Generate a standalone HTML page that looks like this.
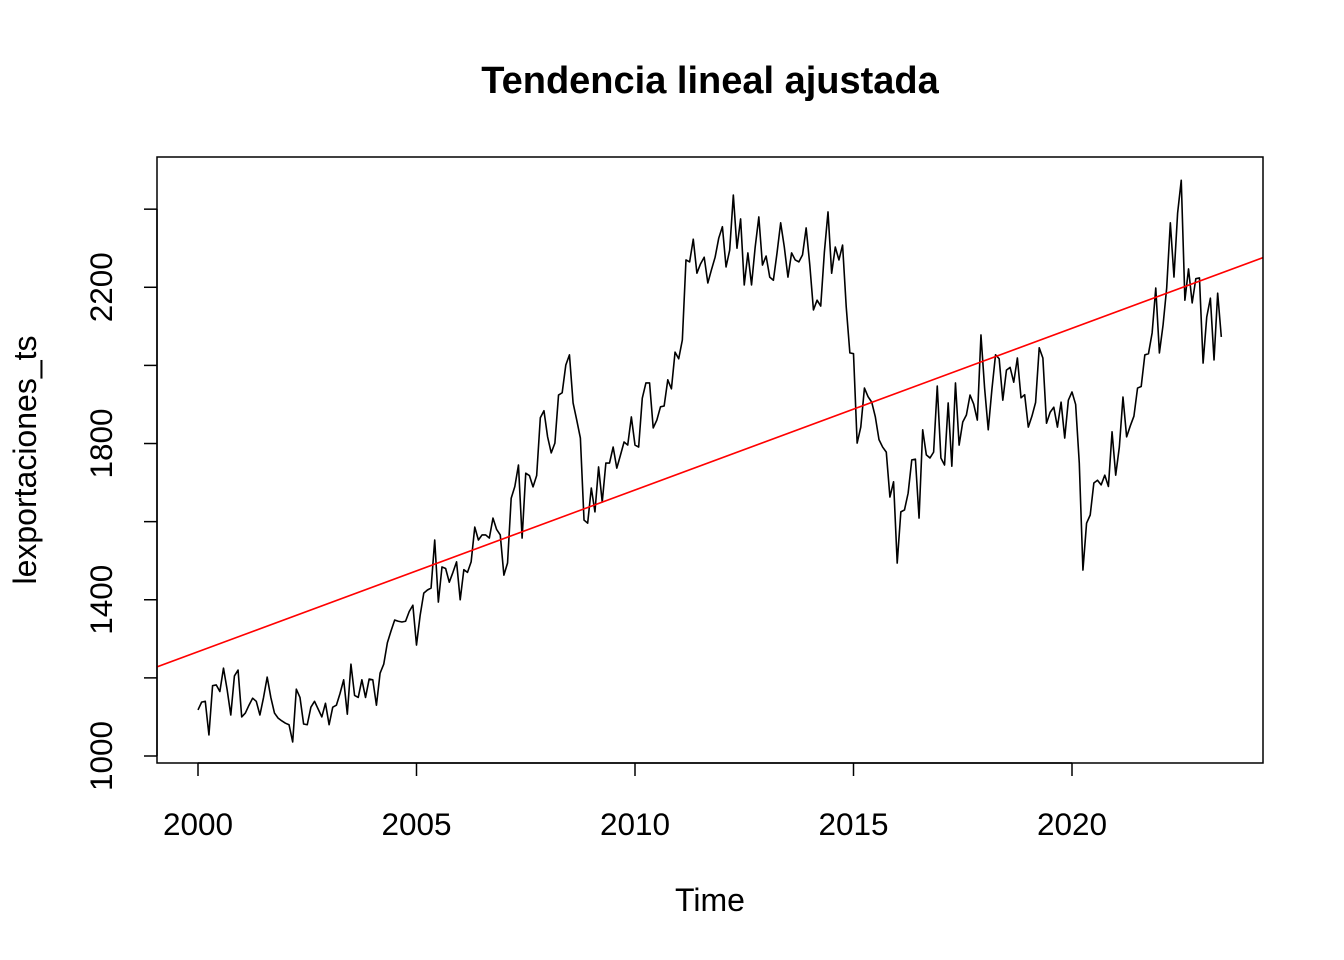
<!DOCTYPE html>
<html><head><meta charset="utf-8"><style>
html,body{margin:0;padding:0;background:#fff;}
svg{display:block;font-family:"Liberation Sans",Arial,sans-serif;}
</style></head><body>
<svg id="chart" width="1344" height="960" viewBox="0 0 1344 960">
<text x="710" y="93" text-anchor="middle" font-size="38" font-weight="bold">Tendencia lineal ajustada</text>
<text x="710" y="911" text-anchor="middle" font-size="32">Time</text>
<text transform="translate(36,460) rotate(-90)" text-anchor="middle" font-size="32">lexportaciones_ts</text>
<defs><clipPath id="plotclip"><rect x="157" y="157" width="1106" height="606"/></clipPath></defs>
<g id="xaxis"></g>
<g id="yaxis"></g>
<g clip-path="url(#plotclip)">
<polyline id="series" fill="none" stroke="#000" stroke-width="1.6" stroke-linejoin="round"/>
<line id="trend" stroke="#ff0000" stroke-width="1.6"/>
</g>
<rect x="157" y="157" width="1106" height="606" fill="none" stroke="#000" stroke-width="1.5"/>
</svg>
<script>
const startYear = 2000;
const values = [
1118,1138,1140,1054,1180,1182,1165,1225,1170,1105,1205,1220,
1100,1110,1130,1148,1140,1105,1150,1202,1150,1110,1097,1090,
1084,1080,1036,1171,1150,1082,1080,1125,1140,1120,1100,1135,
1080,1125,1130,1160,1195,1107,1235,1155,1150,1195,1150,1197,
1195,1130,1212,1235,1290,1320,1348,1345,1343,1345,1370,1386,
1284,1360,1417,1425,1430,1553,1394,1484,1480,1445,1470,1497,
1400,1477,1470,1497,1586,1553,1566,1566,1558,1609,1580,1566,
1463,1494,1660,1690,1745,1558,1724,1718,1689,1718,1866,1884,
1817,1776,1801,1924,1930,2001,2027,1904,1860,1814,1604,1596,
1686,1625,1740,1650,1750,1750,1791,1737,1770,1804,1796,1868,
1796,1791,1916,1955,1955,1840,1860,1894,1896,1963,1940,2034,
2017,2065,2270,2265,2323,2236,2260,2277,2211,2245,2277,2326,
2355,2252,2295,2436,2300,2375,2206,2288,2206,2303,2380,2257,
2280,2226,2218,2288,2365,2303,2226,2288,2270,2265,2283,2352,
2257,2142,2167,2152,2290,2393,2236,2303,2270,2308,2150,2032,
2030,1801,1842,1942,1920,1906,1868,1810,1791,1778,1663,1702,
1494,1625,1630,1673,1758,1760,1609,1835,1771,1763,1778,1947,
1763,1745,1904,1742,1955,1796,1855,1873,1924,1901,1860,2078,
1942,1835,1938,2027,2017,1911,1988,1995,1957,2019,1917,1925,
1842,1870,1905,2045,2019,1852,1880,1893,1842,1906,1814,1911,
1932,1900,1750,1476,1596,1617,1699,1706,1694,1719,1690,1830,
1719,1791,1919,1817,1845,1870,1942,1946,2027,2030,2083,2198,
2032,2103,2198,2365,2226,2390,2474,2167,2247,2160,2222,2224,
2006,2124,2172,2014,2185,2073
];
const trendIntercept = 1267; // value at 2000.0
const trendSlope = 41.4;     // per year
const xTicks = [2000,2005,2010,2015,2020];
const yTicks = [1000,1200,1400,1600,1800,2000,2200,2400];
const yTickLabels = ["1000","","1400","","1800","","2200",""];

const NS="http://www.w3.org/2000/svg";
const xScale = t => 198 + (t-2000)*43.7;
const yScale = v => 756 - (v-1000)*0.3906;

const xa=document.getElementById('xaxis');
const xl=document.createElementNS(NS,'line');
xl.setAttribute('x1',xScale(xTicks[0]));xl.setAttribute('x2',xScale(xTicks[xTicks.length-1]));
xl.setAttribute('y1',763);xl.setAttribute('y2',763);xl.setAttribute('stroke','#000');xl.setAttribute('stroke-width','1.5');


xa.appendChild(xl);
xTicks.forEach(t=>{
  const x=xScale(t);
  const l=document.createElementNS(NS,'line');
  l.setAttribute('x1',x);l.setAttribute('x2',x);l.setAttribute('y1',763);l.setAttribute('y2',776);
  l.setAttribute('stroke','#000');l.setAttribute('stroke-width','1.5');
  
  
  xa.appendChild(l);
  const tx=document.createElementNS(NS,'text');
  tx.setAttribute('x',x);tx.setAttribute('y',835);tx.setAttribute('text-anchor','middle');tx.setAttribute('font-size','31.5');
  tx.textContent=t;
  
  
  xa.appendChild(tx);
});
const ya=document.getElementById('yaxis');
const yl=document.createElementNS(NS,'line');
yl.setAttribute('x1',157);yl.setAttribute('x2',157);
yl.setAttribute('y1',yScale(yTicks[0]));yl.setAttribute('y2',yScale(yTicks[yTicks.length-1]));
yl.setAttribute('stroke','#000');yl.setAttribute('stroke-width','1.5');


ya.appendChild(yl);
yTicks.forEach((v,i)=>{
  const y=yScale(v);
  const l=document.createElementNS(NS,'line');
  l.setAttribute('x1',144);l.setAttribute('x2',157);l.setAttribute('y1',y);l.setAttribute('y2',y);
  l.setAttribute('stroke','#000');l.setAttribute('stroke-width','1.5');
  
  
  ya.appendChild(l);
  if(yTickLabels[i]){
    const tx=document.createElementNS(NS,'text');
    tx.setAttribute('transform','translate(112,'+y+') rotate(-90)');
    tx.setAttribute('text-anchor','middle');tx.setAttribute('font-size','31.5');
    tx.textContent=yTickLabels[i];
    
    
    ya.appendChild(tx);
  }
});
const pts=values.map((v,i)=>xScale(startYear+i/12).toFixed(2)+','+yScale(v).toFixed(2)).join(' ');
document.getElementById('series').setAttribute('points',pts);
const tA=1999.0, tB=2025.0;
const tr=document.getElementById('trend');
tr.setAttribute('x1',xScale(tA));tr.setAttribute('y1',yScale(trendIntercept+trendSlope*(tA-2000)));
tr.setAttribute('x2',xScale(tB));tr.setAttribute('y2',yScale(trendIntercept+trendSlope*(tB-2000)));
</script>
</body></html>
